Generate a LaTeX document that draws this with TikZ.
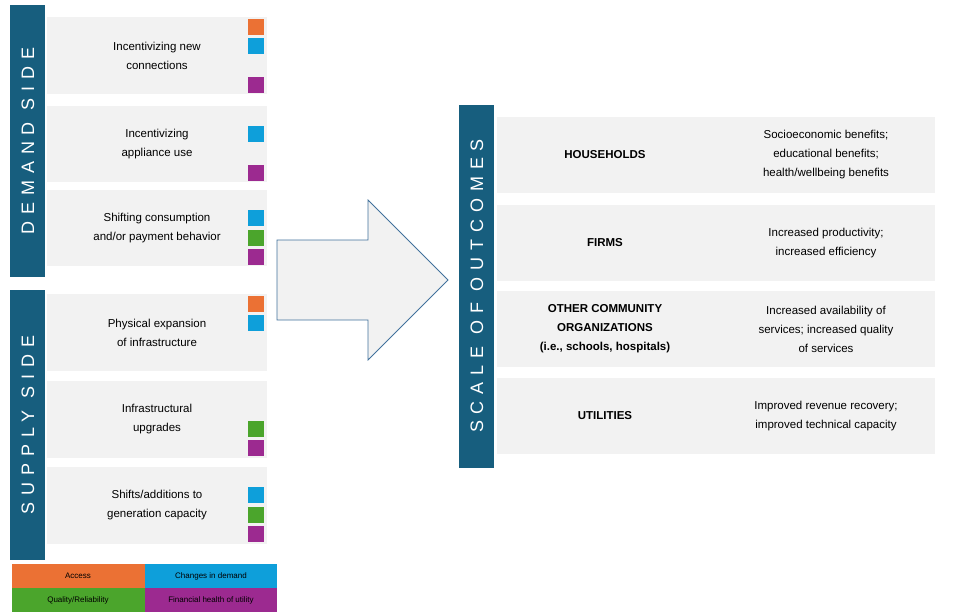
\documentclass[tikz,border=0pt]{standalone}
\usepackage{fontspec}
\setmainfont{Liberation Sans}
\newfontfamily\spaced[LetterSpace=38]{Liberation Sans}
\newfontfamily\spacedb[LetterSpace=30]{Liberation Sans}
\definecolor{bar}{HTML}{175E7E}
\definecolor{boxg}{HTML}{F2F2F2}
\definecolor{cor}{HTML}{EB7134}
\definecolor{cbl}{HTML}{0E9FDA}
\definecolor{cgr}{HTML}{4BA52C}
\definecolor{cpu}{HTML}{9C2A90}
\definecolor{arr}{HTML}{41719C}
\begin{document}
\begin{tikzpicture}[x=1pt,y=-1pt,
  txt/.style={font=\fontsize{11.5}{19}\selectfont,align=center,text=black},
  sq/.style={inner sep=0pt,minimum size=16.5pt}]
\useasboundingbox (0,0) rectangle (953,615);
% bars
\fill[bar] (10,5) rectangle (45,277);
\node[rotate=90,text=white,font=\fontsize{18}{18}\selectfont\spaced] (ds) at (28,141) {DEMAND SIDE};
\fill[bar] (10,290) rectangle (45,560);
\node[rotate=90,text=white,font=\fontsize{18}{18}\selectfont\spaced] (ss) at (28,425) {SUPPLY SIDE};
% left boxes
\foreach \a/\b/\t/\n in {17/94/{Incentivizing new\\connections}/d1,106/182/{Incentivizing\\appliance use}/d2,190/266/{Shifting consumption\\and/or payment behavior}/d3,294/371/{Physical expansion\\of infrastructure}/s1,381/458/{Infrastructural\\upgrades}/s2,467/544/{Shifts/additions to\\generation capacity}/s3}{
  \fill[boxg] (47,\a) rectangle (267,\b);
  \node[txt] (\n) at (157,{(\a+\b)/2}) {\t};
}
% squares
\foreach \y/\c in {27/cor,46/cbl,85/cpu,134/cbl,173/cpu,218/cbl,238/cgr,257/cpu,304/cor,323/cbl,429/cgr,448/cpu,495/cbl,515/cgr,534/cpu}{
  \node[sq,fill=\c] at (256,\y) {};
}
% legend
\fill[cor] (12,564) rectangle (145,588);
\fill[cbl] (145,564) rectangle (277,588);
\fill[cgr] (12,588) rectangle (145,612);
\fill[cpu] (145,588) rectangle (277,612);
\node[font=\fontsize{8}{9}\selectfont] (l1) at (78,576) {Access};
\node[font=\fontsize{8}{9}\selectfont] (l2) at (211,576) {Changes in demand};
\node[font=\fontsize{8}{9}\selectfont] (l3) at (78,600) {Quality/Reliability};
\node[font=\fontsize{8}{9}\selectfont] (l4) at (211,600) {Financial health of utility};
% arrow
\draw[arr,fill=boxg,line width=0.8pt] (277,240) -- (368,240) -- (368,200) -- (448,280) -- (368,360) -- (368,320) -- (277,320) -- cycle;
% right
\fill[bar] (459,105) rectangle (494,468);
\node[rotate=90,text=white,font=\fontsize{18}{18}\selectfont\spaced] (so) at (477,286) {SCALE OF OUTCOMES};
\foreach \a/\b/\t/\u/\n in {117/193/{HOUSEHOLDS}/{Socioeconomic benefits;\\educational benefits;\\health/wellbeing benefits}/h,205/281/{FIRMS}/{Increased productivity;\\increased efficiency}/f,291/367/{OTHER COMMUNITY\\ORGANIZATIONS\\(i.e., schools, hospitals)}/{Increased availability of\\services; increased quality\\of services}/o,378/454/{UTILITIES}/{Improved revenue recovery;\\improved technical capacity}/u}{
  \fill[boxg] (497,\a) rectangle (935,\b);
  \node[txt,font=\fontsize{11.5}{19}\selectfont\bfseries] (\n a) at (605,{(\a+\b)/2}) {\t};
  \node[txt] (\n b) at (826,{(\a+\b)/2}) {\u};
}
\end{tikzpicture}
\end{document}
